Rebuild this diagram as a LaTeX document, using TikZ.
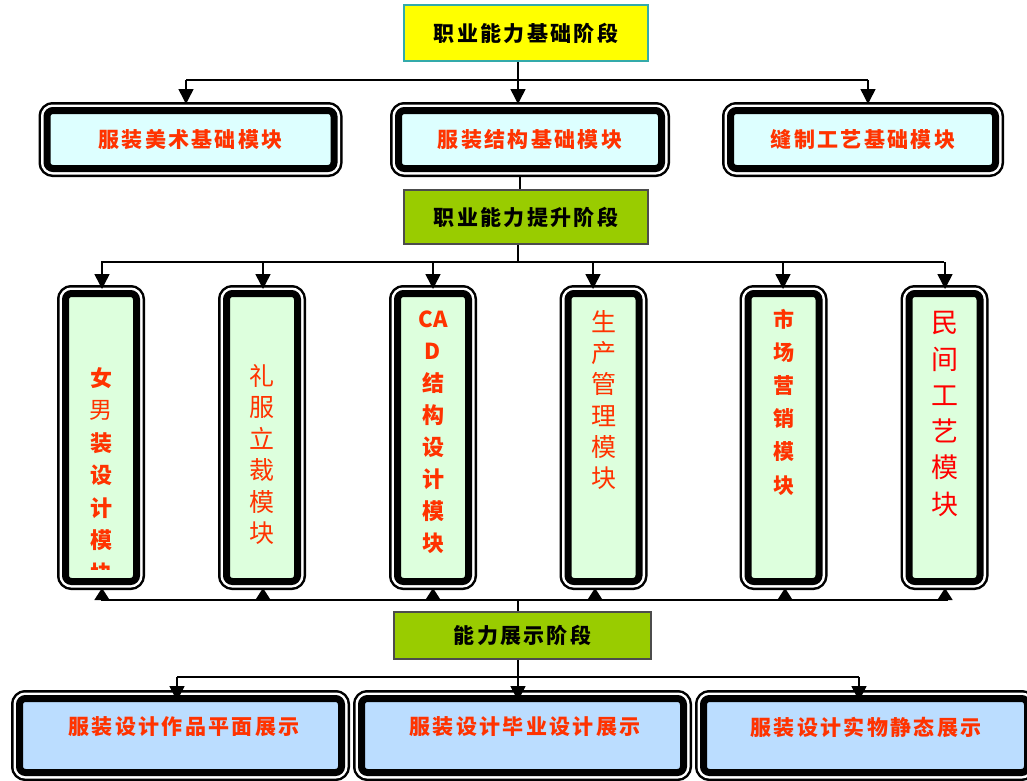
\documentclass[tikz,border=0pt]{standalone}
\usepackage{fontspec}
\newfontfamily\cjk{Noto Sans CJK SC}
\newfontfamily\cjkls[LetterSpace=11]{Noto Sans CJK SC}
\usetikzlibrary{arrows.meta,calc}
\definecolor{txtred}{HTML}{FF3300}
\definecolor{pured}{HTML}{FF0000}
\definecolor{phasegreen}{HTML}{99CC00}
\definecolor{phaseyellow}{HTML}{FFFF00}
\definecolor{tealline}{HTML}{33AAAA}
\definecolor{fillcyan}{HTML}{DDFFFF}
\definecolor{fillgreen}{HTML}{DDFFDD}
\definecolor{fillblue}{HTML}{BBDDFF}
\tikzset{
  fancy/.style={draw=black, line width=7pt, rounded corners=6pt,
    preaction={draw=black, line width=17pt},
    preaction={draw=white, line width=12pt},
    inner sep=0pt, outer sep=8.5pt},
  phase/.style={draw=black!70, line width=1.5pt, inner sep=0pt,
    font=\cjkls\bfseries\fontsize{21}{24}\selectfont, text=black},
  rowtxt/.style={font=\cjkls\bfseries\fontsize{21}{24}\selectfont, text=txtred},
  vtxt/.style={align=center, inner sep=0pt, text=txtred},
  conn/.style={line width=1.5pt},
  arr/.style={line width=1.5pt, -{Triangle[width=15pt,length=15pt]}},
  arrup/.style={line width=1.5pt, -{Triangle[width=15pt,length=12pt]}, shorten >=-2pt},
}
\begin{document}
\begin{tikzpicture}[x=1pt,y=-1pt]
\useasboundingbox (0,0) rectangle (1027,780);
\clip (0,0) rectangle (1027,780);
% phase boxes
\node[phase, fill=phaseyellow, draw=tealline, minimum width=244pt, minimum height=56pt] (t1) at (526,33) {职业能力基础阶段};
\node[phase, fill=phasegreen, minimum width=244pt, minimum height=54pt] (t2) at (526,217) {职业能力提升阶段};
\node[phase, fill=phasegreen, minimum width=257pt, minimum height=47pt] (t3) at (522.5,635.5) {能力展示阶段};
% row 2 boxes
\node[fancy, fill=fillcyan, minimum width=287pt, minimum height=58pt, rowtxt] (r1) at (190.5,139.5) {服装美术基础模块};
\node[fancy, fill=fillcyan, minimum width=263pt, minimum height=58pt, rowtxt] (r2) at (530,139.5) {服装结构基础模块};
\node[fancy, fill=fillcyan, minimum width=265pt, minimum height=58pt, rowtxt] (r3) at (863,139.5) {缝制工艺基础模块};
% vertical boxes
\foreach \n/\x in {v1/101, v2/262, v3/433, v4/603.5, v5/783.5, v6/944.5}
  \node[fancy, fill=fillgreen, minimum width=71pt, minimum height=288pt] (\n) at (\x,437.5) {};
% bottom boxes
\node[fancy, fill=fillblue, minimum width=322pt, minimum height=74pt] (w1) at (180.5,735.5) {};
\node[fancy, fill=fillblue, minimum width=322pt, minimum height=74pt] (w2) at (522.5,735.5) {};
\node[fancy, fill=fillblue, minimum width=324pt, minimum height=74pt] (w3) at (865.5,735.5) {};
% vertical texts
\begin{scope}
\clip (69,297) rectangle (133,569);
\node[vtxt, font=\cjk\fontsize{22}{32.5}\selectfont] (vt1) at (v1.center |- 0,475.5)
  {{\bfseries 女}\\{\fontsize{23}{32.5}\selectfont 男}\\{\bfseries 装}\\{\bfseries 设}\\{\bfseries 计}\\{\bfseries 模}\\{\bfseries 块}};
\end{scope}
\node[vtxt, font=\cjk\fontsize{25}{31.4}\selectfont] (vt2) at (v2.center |- 0,454.5)
  {礼\\服\\立\\裁\\模\\块};
\node[vtxt, font=\cjk\bfseries\fontsize{22}{32}\selectfont] (vt3) at (v3.center |- 0,432)
  {CA\\D\\结\\构\\设\\计\\模\\块};
\node[vtxt, font=\cjk\fontsize{25}{31.1}\selectfont] (vt4) at (v4.center |- 0,400)
  {生\\产\\管\\理\\模\\块};
\node[vtxt, font=\cjk\bfseries\fontsize{21}{33.2}\selectfont] (vt5) at (v5.center |- 0,402)
  {市\\场\\营\\销\\模\\块};
\node[vtxt, font=\cjk\fontsize{27}{36.3}\selectfont, text=pured] (vt6) at (v6.center |- 0,414)
  {民\\间\\工\\艺\\模\\块};
% bottom texts
\node[rowtxt] (wt1) at (184,727) {服装设计作品平面展示};
\node[rowtxt] (wt2) at (525,727) {服装设计毕业设计展示};
\node[rowtxt] (wt3) at (866,727) {服装设计实物静态展示};
% connectors: stage 1
\coordinate (b1) at (518,80);
\coordinate (b1l) at (186,80);
\coordinate (b1r) at (868,80);
\draw[conn] (t1.south -| b1) -- (b1);
\draw[conn] (b1l) -- (b1r);
\draw[arr, shorten >=-2pt] (b1l) -- (b1l |- r1.north);
\draw[arr, shorten >=-2pt] (b1) -- (b1 |- r2.north);
\draw[arr, shorten >=-2pt] (b1r) -- (b1r |- r3.north);
% row2 -> stage 2
\coordinate (c2) at (520,183);
\draw[conn] (c2 |- r2.south) -- (c2 |- t2.north);
% stage 2 -> vertical boxes
\coordinate (b2) at (518,262);
\coordinate (b2l) at (101,262);
\coordinate (b2r) at (944,262);
\draw[conn] (t2.south -| b2) -- (b2);
\draw[conn] (b2l) -- (b2r);
\foreach \n/\x in {v1/102, v2/263, v3/433, v4/593, v5/783, v6/945}{
  \coordinate (d\n) at (\x,262);
  \draw[arr, shorten >=-4pt] (d\n) -- (d\n |- \n.north);
}
% vertical boxes -> stage 3
\coordinate (b3) at (518,600);
\coordinate (b3l) at (101,600);
\coordinate (b3r) at (948,600);
\draw[conn] (b3l) -- (b3r);
\foreach \n/\x in {v1/102, v2/263, v3/433, v4/595, v5/785, v6/945}{
  \coordinate (u\n) at (\x,600);
  \draw[arrup] (u\n) -- (u\n |- \n.south);
}
\draw[conn] (b3) -- (b3 |- t3.north);
% stage 3 -> bottom boxes
\coordinate (b4) at (518,677);
\coordinate (b4l) at (177,677);
\coordinate (b4r) at (859,677);
\draw[conn] (t3.south -| b4) -- (b4);
\draw[conn] (b4l) -- (b4r);
\draw[arr, shorten >=-11pt] (b4l) -- (b4l |- w1.north);
\draw[arr, shorten >=-11pt] (b4) -- (b4 |- w2.north);
\draw[arr, shorten >=-11pt] (b4r) -- (b4r |- w3.north);
\end{tikzpicture}
\end{document}
